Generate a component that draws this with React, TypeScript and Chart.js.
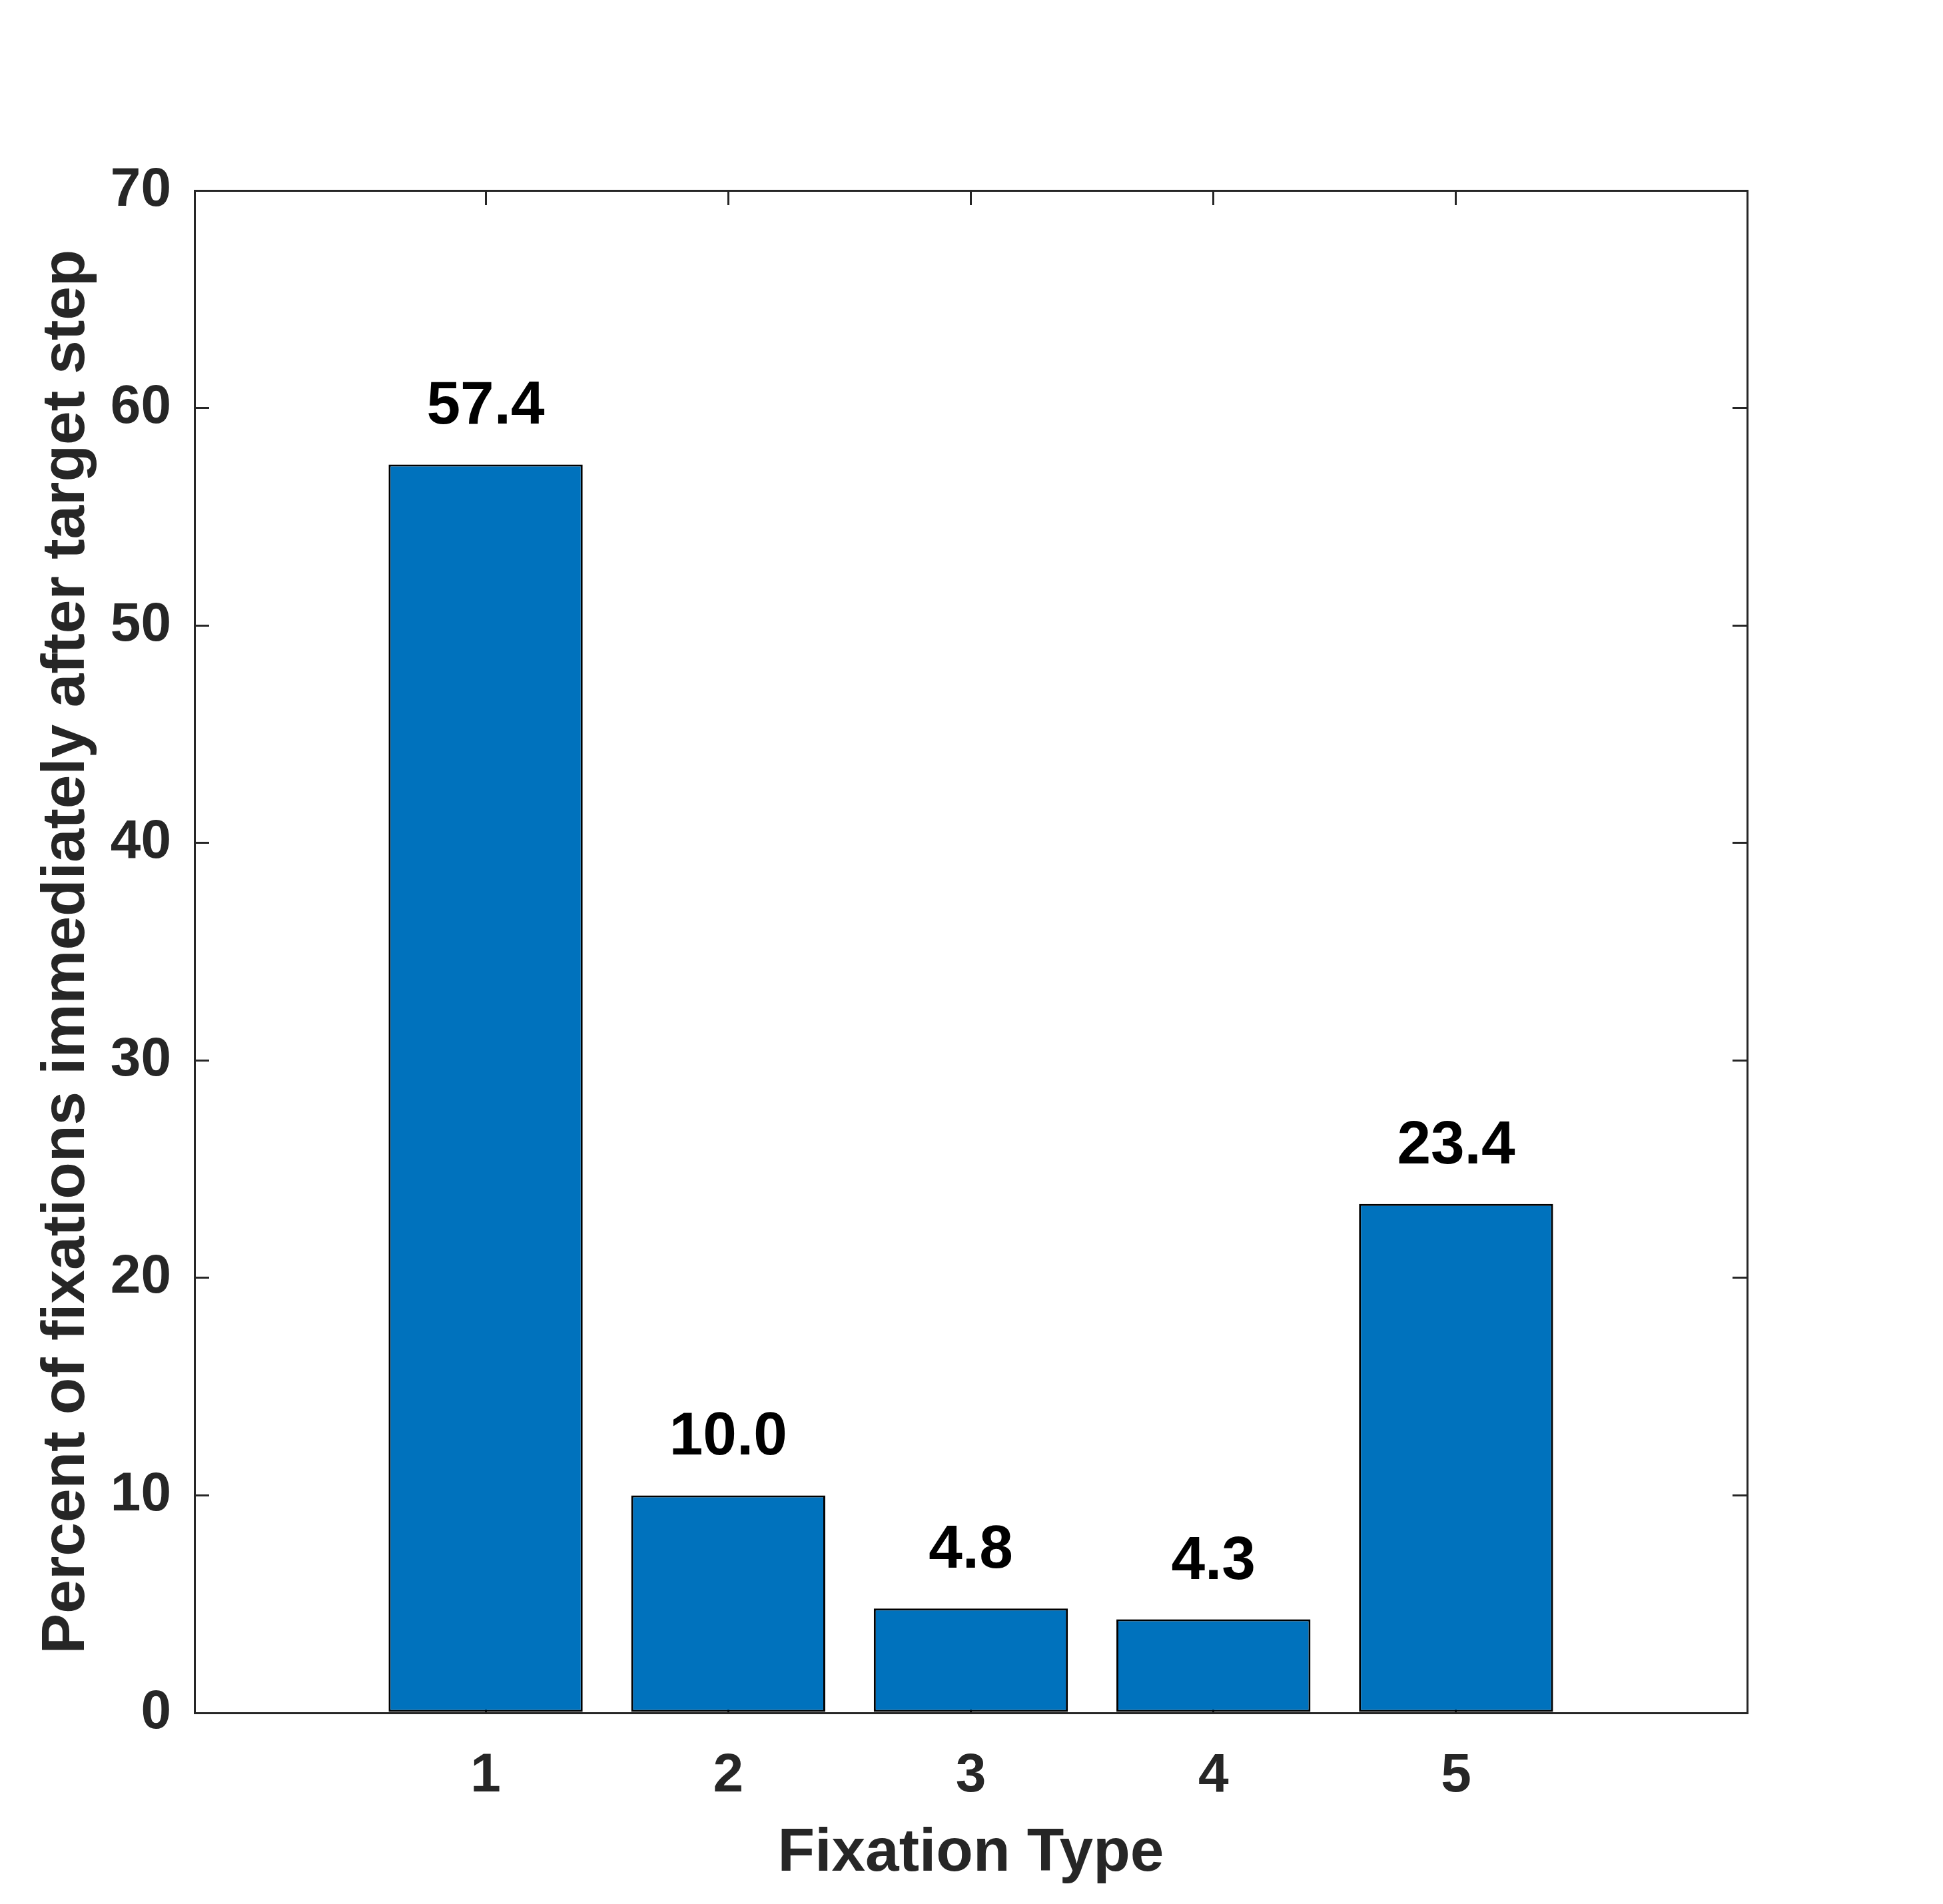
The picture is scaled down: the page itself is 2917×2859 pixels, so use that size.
import React, { useEffect, useRef } from "react";
import { Chart, registerables } from "chart.js";

Chart.register(...registerables);

const categories: number[] = [1, 2, 3, 4, 5];
const values: number[] = [57.4, 10.0, 4.8, 4.3, 23.4];
const xTitle = "Fixation Type";
const yTitle = "Percent of fixations immediately after target step";
const yTickStep = 10;
const yMin = 0;
const yMax = 70;
const xMin = -0.2;
const xMax = 6.2;

const W = 2917;
const H = 2859;
const FONT = "'Liberation Sans', Arial, Helvetica, sans-serif";
const AXIS_COLOR = "#262626";
const BAR_COLOR = "#0072BD";

const valueLabelPlugin = {
  id: "valueLabels",
  afterDatasetsDraw(chart: any) {
    const meta = chart.getDatasetMeta(0);
    const ctx = chart.ctx;
    ctx.save();
    ctx.font = `bold 91px ${FONT}`;
    ctx.fillStyle = "#000000";
    ctx.textAlign = "center";
    ctx.textBaseline = "alphabetic";
    meta.data.forEach((el: any, i: number) => {
      ctx.fillText(values[i].toFixed(1), el.x, el.y - 61);
    });
    ctx.restore();
  },
};

export default function App() {
  const ref = useRef<HTMLCanvasElement | null>(null);

  useEffect(() => {
    if (!ref.current) return;
    const setCatTicks = (scale: any) => {
      scale.ticks = categories.map((v) => ({ value: v }));
    };
    const gridOpts = {
      drawOnChartArea: false,
      drawTicks: true,
      tickLength: -22,
      lineWidth: 3,
      color: AXIS_COLOR,
      offset: false,
    };
    const borderOpts = { display: true, color: AXIS_COLOR, width: 3 };
    const chart = new Chart(ref.current, {
      type: "bar",
      data: {
        datasets: [
          {
            data: values.map((v, i) => ({ x: categories[i], y: v })),
            backgroundColor: BAR_COLOR,
            borderColor: "#000000",
            borderWidth: 3,
            borderSkipped: false,
            categoryPercentage: 1,
            barPercentage: 0.8,
            xAxisID: "x",
            yAxisID: "y",
          } as any,
        ],
      },
      plugins: [valueLabelPlugin],
      options: {
        animation: false,
        responsive: false,
        devicePixelRatio: 1,
        layout: { padding: { left: 0, top: 286, right: 294, bottom: 0 } },
        plugins: {
          legend: { display: false },
          tooltip: { enabled: false },
          title: { display: false },
        },
        scales: {
          x: {
            type: "linear",
            position: "bottom",
            min: xMin,
            max: xMax,
            offset: false,
            afterBuildTicks: setCatTicks,
            afterFit: (s: any) => {
              s.height = H - 2572;
            },
            ticks: {
              color: AXIS_COLOR,
              font: { family: FONT, size: 82, weight: "bold" },
              padding: 68,
              maxRotation: 0,
              autoSkip: false,
              callback: (v: any) => String(v),
            },
            grid: gridOpts,
            border: borderOpts,
            title: {
              display: true,
              text: xTitle,
              color: AXIS_COLOR,
              font: { family: FONT, size: 91, weight: "bold" },
              padding: { top: 0, bottom: 20 },
            },
          },
          x2: {
            type: "linear",
            position: "top",
            min: xMin,
            max: xMax,
            offset: false,
            afterBuildTicks: setCatTicks,
            afterFit: (s: any) => {
              s.height = 0;
            },
            ticks: { display: false },
            grid: gridOpts,
            border: borderOpts,
          },
          y: {
            type: "linear",
            position: "left",
            min: yMin,
            max: yMax,
            afterFit: (s: any) => {
              s.width = 292;
            },
            ticks: {
              stepSize: yTickStep,
              color: AXIS_COLOR,
              font: { family: FONT, size: 82, weight: "bold" },
              padding: 57,
            },
            grid: gridOpts,
            border: borderOpts,
            title: {
              display: true,
              text: yTitle,
              color: AXIS_COLOR,
              font: { family: FONT, size: 91, weight: "bold" },
              padding: { top: 46, bottom: 0 },
            },
          },
          y2: {
            type: "linear",
            position: "right",
            min: yMin,
            max: yMax,
            afterFit: (s: any) => {
              s.width = 0;
            },
            ticks: { display: false, stepSize: yTickStep },
            grid: gridOpts,
            border: borderOpts,
          },
        },
      } as any,
    });
    return () => chart.destroy();
  }, []);

  return (
    <div style={{ position: "absolute", left: 0, top: 0, width: W, height: H, background: "#ffffff" }}>
      <canvas ref={ref} width={W} height={H} style={{ display: "block", width: W, height: H }} />
    </div>
  );
}
